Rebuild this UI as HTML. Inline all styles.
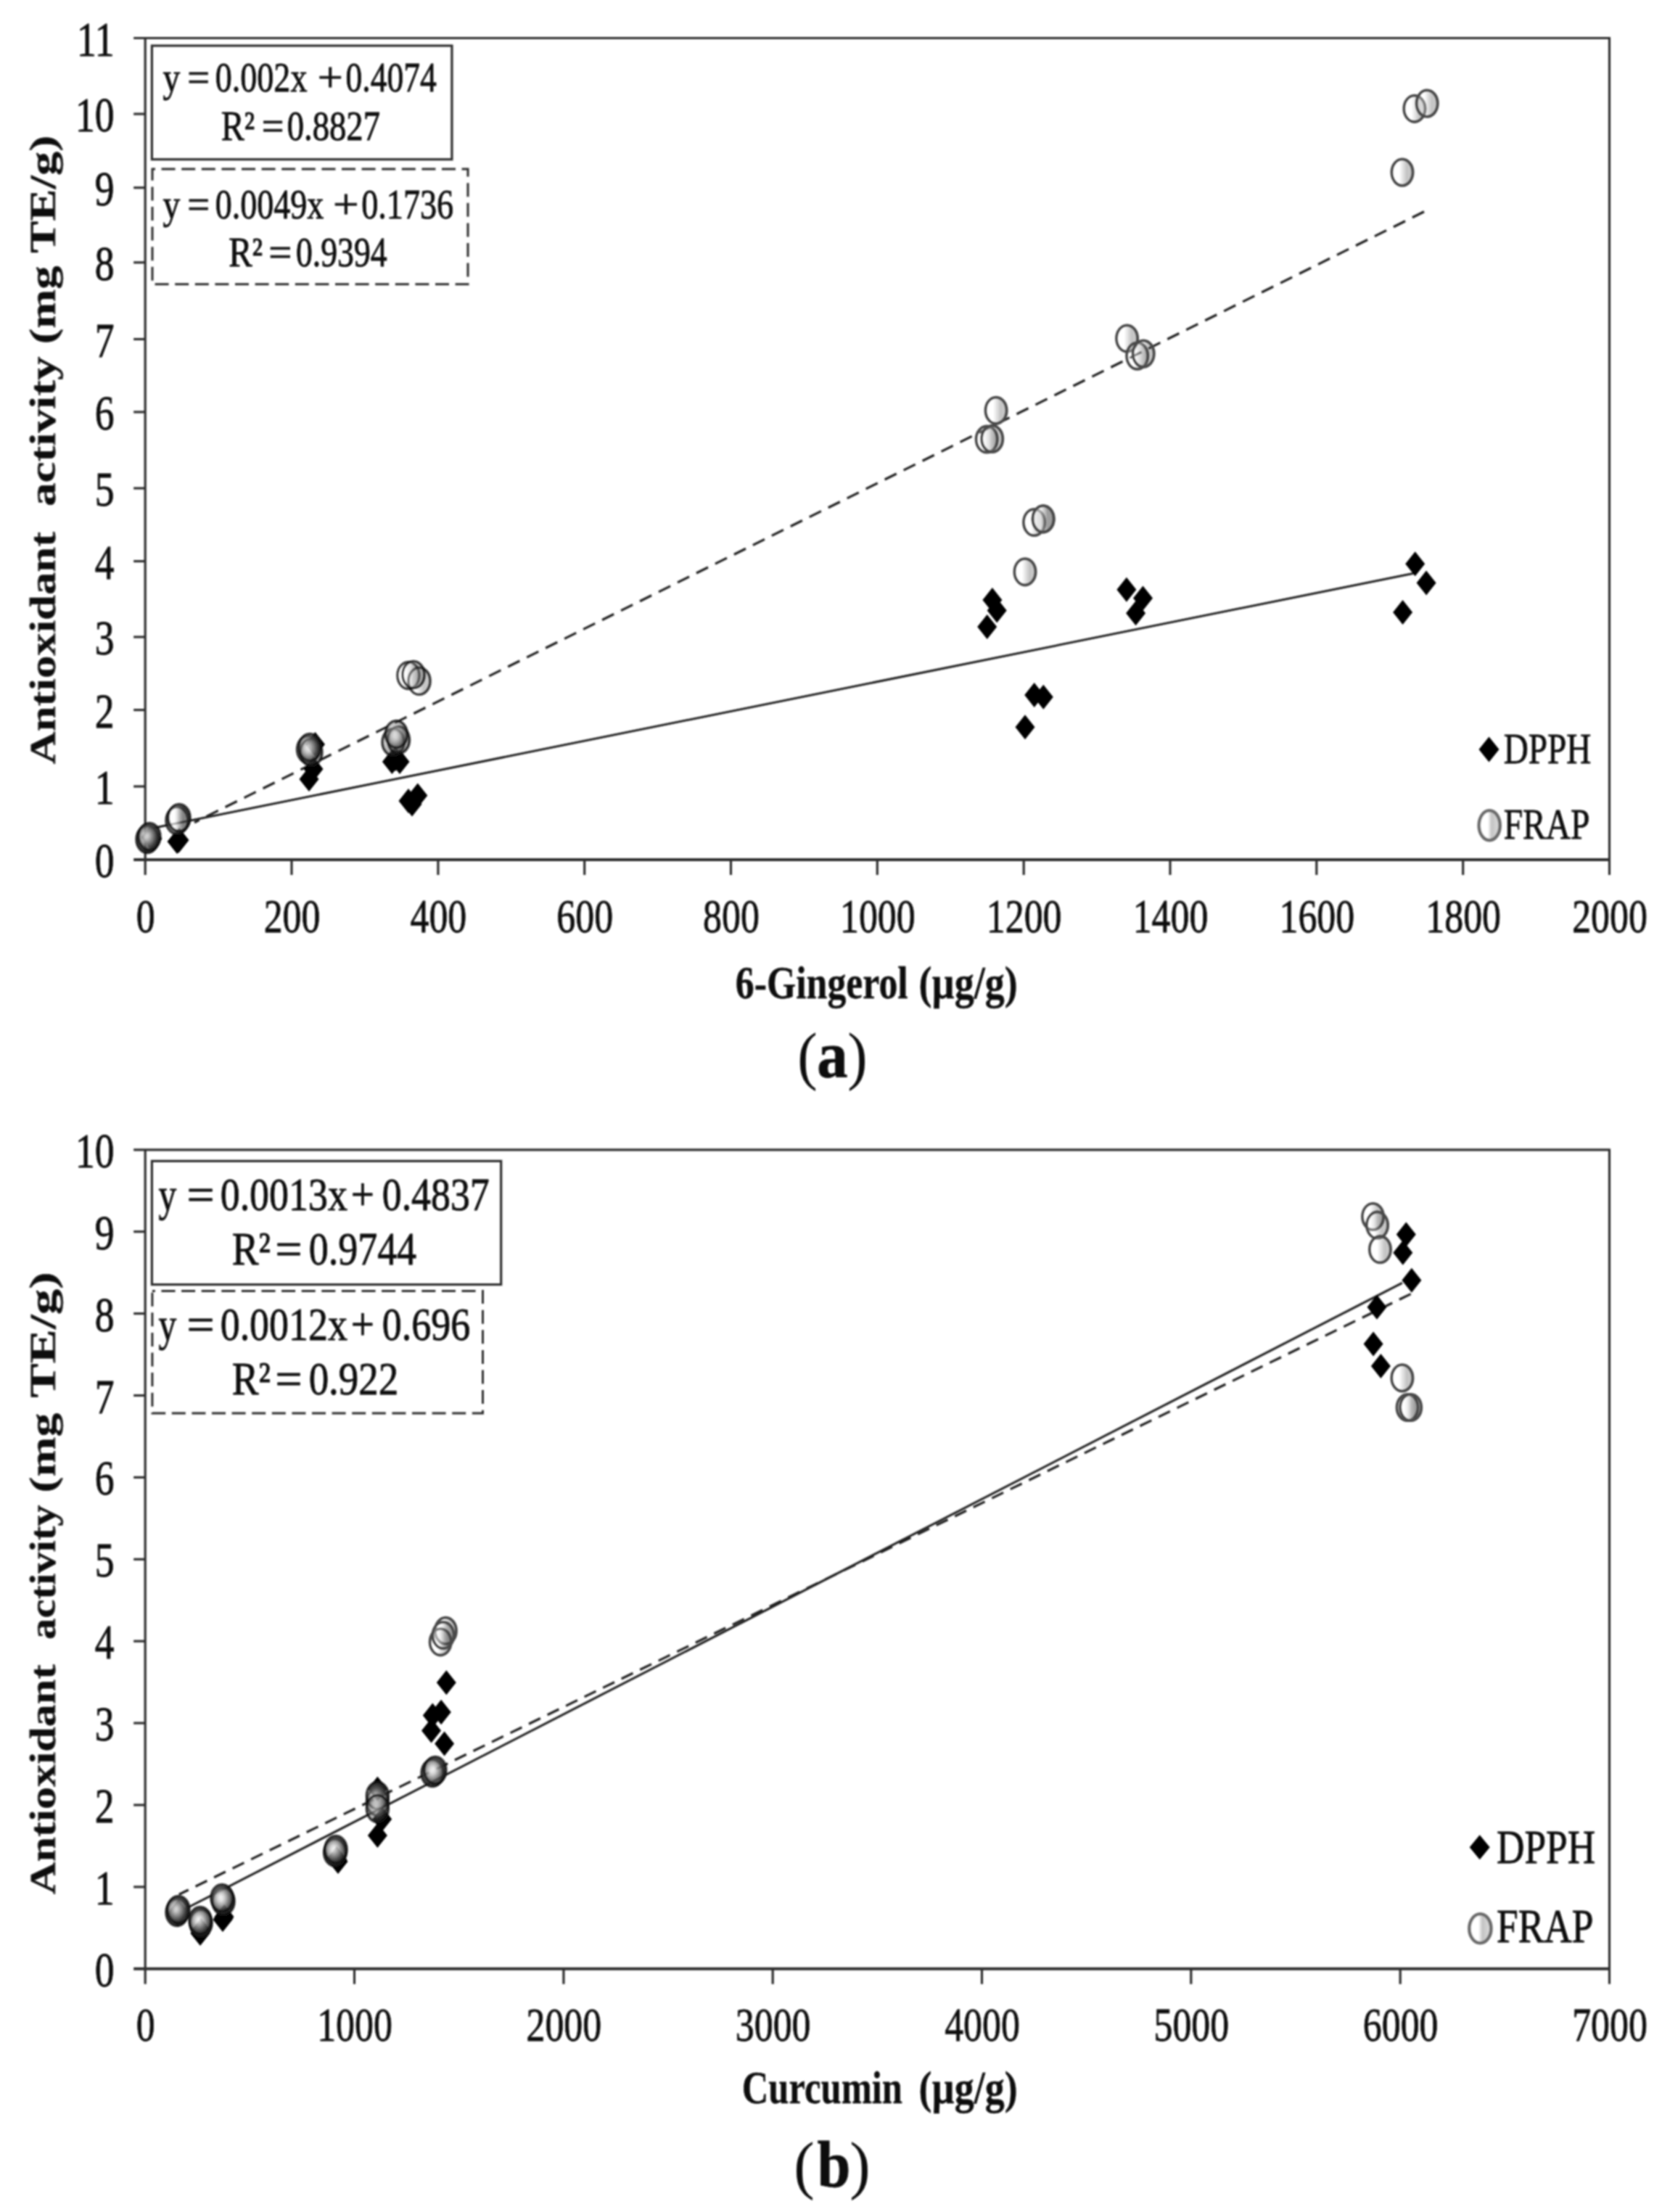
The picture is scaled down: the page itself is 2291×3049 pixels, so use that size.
<!DOCTYPE html>
<html><head><meta charset="utf-8"><title>Antioxidant activity correlation</title>
<style>
html,body{margin:0;padding:0;background:#fff}
svg{display:block}
text{font-family:"Liberation Serif",serif;fill:#0a0a0a;stroke:#0a0a0a;stroke-width:0.8px}
text[font-weight="bold"]{stroke-width:0.3px}
</style></head><body>
<svg width="2291" height="3049" viewBox="0 0 2291 3049">
<defs>
<linearGradient id="sp" x1="0" y1="0" x2="1" y2="0">
<stop offset="0" stop-color="#fff" stop-opacity="0.3"/>
<stop offset="0.36" stop-color="#fff" stop-opacity="0.3"/>
<stop offset="0.7" stop-color="#3c3c3c" stop-opacity="0.3"/>
<stop offset="1" stop-color="#555" stop-opacity="0.32"/>
</linearGradient>
<linearGradient id="lg" x1="0" y1="0" x2="1" y2="0">
<stop offset="0" stop-color="#fff"/>
<stop offset="0.42" stop-color="#fff"/>
<stop offset="0.6" stop-color="#c4c4c4"/>
<stop offset="1" stop-color="#dedede"/>
</linearGradient>
<radialGradient id="spd" cx="0.42" cy="0.45" r="0.62">
<stop offset="0" stop-color="#fff" stop-opacity="0.55"/>
<stop offset="0.25" stop-color="#d0d0d0" stop-opacity="0.45"/>
<stop offset="0.7" stop-color="#484848" stop-opacity="0.48"/>
<stop offset="1" stop-color="#111" stop-opacity="0.5"/>
</radialGradient>
<filter id="soft" x="0" y="0" width="2291" height="3049" filterUnits="userSpaceOnUse"><feGaussianBlur stdDeviation="0.9"/></filter>
</defs>
<rect width="2291" height="3049" fill="#fff"/>
<g filter="url(#soft)">
<line x1="184.2" y1="52.5" x2="2220.0" y2="52.5" stroke="#2e2e2e" stroke-width="3.2"/>
<line x1="2218.5" y1="52.5" x2="2218.5" y2="1206.0" stroke="#2e2e2e" stroke-width="3.2"/>
<line x1="200.2" y1="52.5" x2="200.2" y2="1206.0" stroke="#2e2e2e" stroke-width="3.2"/>
<line x1="184.2" y1="1185.0" x2="2220.0" y2="1185.0" stroke="#2e2e2e" stroke-width="4"/>
<text transform="translate(157.50,1209.00) scale(0.8000,1)" font-size="67" text-anchor="end">0</text>
<line x1="184.2" y1="1084.0" x2="200.2" y2="1084.0" stroke="#2e2e2e" stroke-width="3.2"/>
<text transform="translate(157.50,1108.00) scale(0.8000,1)" font-size="67" text-anchor="end">1</text>
<line x1="184.2" y1="978.6" x2="200.2" y2="978.6" stroke="#2e2e2e" stroke-width="3.2"/>
<text transform="translate(157.50,1002.60) scale(0.8000,1)" font-size="67" text-anchor="end">2</text>
<line x1="184.2" y1="878.0" x2="200.2" y2="878.0" stroke="#2e2e2e" stroke-width="3.2"/>
<text transform="translate(157.50,902.00) scale(0.8000,1)" font-size="67" text-anchor="end">3</text>
<line x1="184.2" y1="773.6" x2="200.2" y2="773.6" stroke="#2e2e2e" stroke-width="3.2"/>
<text transform="translate(157.50,797.60) scale(0.8000,1)" font-size="67" text-anchor="end">4</text>
<line x1="184.2" y1="673.0" x2="200.2" y2="673.0" stroke="#2e2e2e" stroke-width="3.2"/>
<text transform="translate(157.50,697.00) scale(0.8000,1)" font-size="67" text-anchor="end">5</text>
<line x1="184.2" y1="567.9" x2="200.2" y2="567.9" stroke="#2e2e2e" stroke-width="3.2"/>
<text transform="translate(157.50,591.90) scale(0.8000,1)" font-size="67" text-anchor="end">6</text>
<line x1="184.2" y1="467.5" x2="200.2" y2="467.5" stroke="#2e2e2e" stroke-width="3.2"/>
<text transform="translate(157.50,491.50) scale(0.8000,1)" font-size="67" text-anchor="end">7</text>
<line x1="184.2" y1="361.8" x2="200.2" y2="361.8" stroke="#2e2e2e" stroke-width="3.2"/>
<text transform="translate(157.50,385.80) scale(0.8000,1)" font-size="67" text-anchor="end">8</text>
<line x1="184.2" y1="258.7" x2="200.2" y2="258.7" stroke="#2e2e2e" stroke-width="3.2"/>
<text transform="translate(157.50,282.70) scale(0.8000,1)" font-size="67" text-anchor="end">9</text>
<line x1="184.2" y1="157.1" x2="200.2" y2="157.1" stroke="#2e2e2e" stroke-width="3.2"/>
<text transform="translate(157.50,181.10) scale(0.8000,1)" font-size="67" text-anchor="end">10</text>
<text transform="translate(157.50,76.50) scale(0.8000,1)" font-size="67" text-anchor="end">11</text>
<text transform="translate(200.70,1284.50) scale(0.7800,1)" font-size="66.5" text-anchor="middle">0</text>
<line x1="402.0" y1="1185.0" x2="402.0" y2="1206.0" stroke="#2e2e2e" stroke-width="3.2"/>
<text transform="translate(402.53,1284.50) scale(0.7800,1)" font-size="66.5" text-anchor="middle">200</text>
<line x1="603.9" y1="1185.0" x2="603.9" y2="1206.0" stroke="#2e2e2e" stroke-width="3.2"/>
<text transform="translate(604.36,1284.50) scale(0.7800,1)" font-size="66.5" text-anchor="middle">400</text>
<line x1="805.7" y1="1185.0" x2="805.7" y2="1206.0" stroke="#2e2e2e" stroke-width="3.2"/>
<text transform="translate(806.19,1284.50) scale(0.7800,1)" font-size="66.5" text-anchor="middle">600</text>
<line x1="1007.5" y1="1185.0" x2="1007.5" y2="1206.0" stroke="#2e2e2e" stroke-width="3.2"/>
<text transform="translate(1008.02,1284.50) scale(0.7800,1)" font-size="66.5" text-anchor="middle">800</text>
<line x1="1209.3" y1="1185.0" x2="1209.3" y2="1206.0" stroke="#2e2e2e" stroke-width="3.2"/>
<text transform="translate(1209.85,1284.50) scale(0.7800,1)" font-size="66.5" text-anchor="middle">1000</text>
<line x1="1411.2" y1="1185.0" x2="1411.2" y2="1206.0" stroke="#2e2e2e" stroke-width="3.2"/>
<text transform="translate(1411.68,1284.50) scale(0.7800,1)" font-size="66.5" text-anchor="middle">1200</text>
<line x1="1613.0" y1="1185.0" x2="1613.0" y2="1206.0" stroke="#2e2e2e" stroke-width="3.2"/>
<text transform="translate(1613.51,1284.50) scale(0.7800,1)" font-size="66.5" text-anchor="middle">1400</text>
<line x1="1814.8" y1="1185.0" x2="1814.8" y2="1206.0" stroke="#2e2e2e" stroke-width="3.2"/>
<text transform="translate(1815.34,1284.50) scale(0.7800,1)" font-size="66.5" text-anchor="middle">1600</text>
<line x1="2016.7" y1="1185.0" x2="2016.7" y2="1206.0" stroke="#2e2e2e" stroke-width="3.2"/>
<text transform="translate(2017.17,1284.50) scale(0.7800,1)" font-size="66.5" text-anchor="middle">1800</text>
<text transform="translate(2219.00,1284.50) scale(0.7800,1)" font-size="66.5" text-anchor="middle">2000</text>
<line x1="203.0" y1="1143.0" x2="1950.0" y2="790.0" stroke="#222" stroke-width="3"/>
<line x1="1963.0" y1="291.8" x2="268.0" y2="1133.7" stroke="#222" stroke-width="3.2" stroke-dasharray="18 11"/>
<rect x="209.4" y="63.0" width="413.5" height="156.7" fill="none" stroke="#2e2e2e" stroke-width="3.2"/>
<rect x="210.0" y="233.0" width="435.0" height="158.8" fill="none" stroke="#2e2e2e" stroke-width="3" stroke-dasharray="19 8.6" stroke-dashoffset="15"/>
<text y="126.40" font-size="57"><tspan x="224.41" textLength="23.71" lengthAdjust="spacingAndGlyphs">y</tspan> <tspan x="258.27" textLength="30.81" lengthAdjust="spacingAndGlyphs">=</tspan> <tspan x="296.67" textLength="126.81" lengthAdjust="spacingAndGlyphs">0.002x</tspan> <tspan x="437.79" textLength="35.05" lengthAdjust="spacingAndGlyphs">+</tspan> <tspan x="476.49" textLength="125.19" lengthAdjust="spacingAndGlyphs">0.4074</tspan></text>
<text y="192.50" font-size="57"><tspan x="304.78" textLength="46.47" lengthAdjust="spacingAndGlyphs">R²</tspan> <tspan x="360.68" textLength="30.68" lengthAdjust="spacingAndGlyphs">=</tspan> <tspan x="395.75" textLength="128.23" lengthAdjust="spacingAndGlyphs">0.8827</tspan></text>
<text y="300.80" font-size="57"><tspan x="224.41" textLength="23.71" lengthAdjust="spacingAndGlyphs">y</tspan> <tspan x="258.27" textLength="30.81" lengthAdjust="spacingAndGlyphs">=</tspan> <tspan x="296.67" textLength="149.60" lengthAdjust="spacingAndGlyphs">0.0049x</tspan> <tspan x="458.94" textLength="35.66" lengthAdjust="spacingAndGlyphs">+</tspan> <tspan x="498.17" textLength="127.02" lengthAdjust="spacingAndGlyphs">0.1736</tspan></text>
<text y="367.00" font-size="57"><tspan x="315.17" textLength="46.89" lengthAdjust="spacingAndGlyphs">R²</tspan> <tspan x="370.15" textLength="32.14" lengthAdjust="spacingAndGlyphs">=</tspan> <tspan x="407.88" textLength="125.80" lengthAdjust="spacingAndGlyphs">0.9394</tspan></text>
<text transform="translate(75.80,0) rotate(-90)" font-size="51" font-weight="bold"><tspan x="-1053.63" textLength="320.77" lengthAdjust="spacingAndGlyphs">Antioxidant</tspan> <tspan x="-698.12" textLength="206.81" lengthAdjust="spacingAndGlyphs">activity</tspan> <tspan x="-474.36" textLength="108.07" lengthAdjust="spacingAndGlyphs">(mg</tspan> <tspan x="-349.00" textLength="162.31" lengthAdjust="spacingAndGlyphs">TE/g)</tspan></text>
<text y="1376.30" font-size="63" font-weight="bold"><tspan x="1013.79" textLength="237.91" lengthAdjust="spacingAndGlyphs">6-Gingerol</tspan> <tspan x="1266.60" textLength="136.09" lengthAdjust="spacingAndGlyphs">(µg/g)</tspan></text>
<text y="1484.60" font-size="88"><tspan x="1099.30" textLength="27.42" lengthAdjust="spacingAndGlyphs" stroke-width="0">(</tspan><tspan x="1126.26" textLength="42.21" lengthAdjust="spacingAndGlyphs" font-weight="bold" font-size="92">a</tspan><tspan x="1168.32" textLength="27.42" lengthAdjust="spacingAndGlyphs" stroke-width="0">)</tspan></text>
<path d="M245.8 1142.0L259.3 1159.0L245.8 1176.0L232.3 1159.0Z" fill="#000"/>
<path d="M244.0 1143.0L257.5 1160.0L244.0 1177.0L230.5 1160.0Z" fill="#000"/>
<path d="M247.0 1141.0L260.5 1158.0L247.0 1175.0L233.5 1158.0Z" fill="#000"/>
<path d="M209.0 1138.0L222.5 1155.0L209.0 1172.0L195.5 1155.0Z" fill="#000"/>
<path d="M210.0 1139.0L223.5 1156.0L210.0 1173.0L196.5 1156.0Z" fill="#000"/>
<path d="M208.0 1137.0L221.5 1154.0L208.0 1171.0L194.5 1154.0Z" fill="#000"/>
<path d="M434.5 1009.0L448.0 1026.0L434.5 1043.0L421.0 1026.0Z" fill="#000"/>
<path d="M426.0 1057.0L439.5 1074.0L426.0 1091.0L412.5 1074.0Z" fill="#000"/>
<path d="M432.0 1043.0L445.5 1060.0L432.0 1077.0L418.5 1060.0Z" fill="#000"/>
<path d="M540.4 1033.0L553.9 1050.0L540.4 1067.0L526.9 1050.0Z" fill="#000"/>
<path d="M551.0 1033.0L564.5 1050.0L551.0 1067.0L537.5 1050.0Z" fill="#000"/>
<path d="M545.0 1029.0L558.5 1046.0L545.0 1063.0L531.5 1046.0Z" fill="#000"/>
<path d="M563.0 1087.0L576.5 1104.0L563.0 1121.0L549.5 1104.0Z" fill="#000"/>
<path d="M575.8 1079.6L589.3 1096.6L575.8 1113.6L562.3 1096.6Z" fill="#000"/>
<path d="M568.0 1091.6L581.5 1108.6L568.0 1125.6L554.5 1108.6Z" fill="#000"/>
<path d="M1367.9 810.1L1381.4 827.1L1367.9 844.1L1354.4 827.1Z" fill="#000"/>
<path d="M1374.2 824.6L1387.7 841.6L1374.2 858.6L1360.7 841.6Z" fill="#000"/>
<path d="M1360.7 847.1L1374.2 864.1L1360.7 881.1L1347.2 864.1Z" fill="#000"/>
<path d="M1552.9 795.7L1566.4 812.7L1552.9 829.7L1539.4 812.7Z" fill="#000"/>
<path d="M1575.5 807.4L1589.0 824.4L1575.5 841.4L1562.0 824.4Z" fill="#000"/>
<path d="M1565.6 828.2L1579.1 845.2L1565.6 862.2L1552.1 845.2Z" fill="#000"/>
<path d="M1425.7 941.0L1439.2 958.0L1425.7 975.0L1412.2 958.0Z" fill="#000"/>
<path d="M1438.3 943.7L1451.8 960.7L1438.3 977.7L1424.8 960.7Z" fill="#000"/>
<path d="M1413.0 985.2L1426.5 1002.2L1413.0 1019.2L1399.5 1002.2Z" fill="#000"/>
<path d="M1950.7 760.3L1964.2 777.3L1950.7 794.3L1937.2 777.3Z" fill="#000"/>
<path d="M1966.1 786.4L1979.6 803.4L1966.1 820.4L1952.6 803.4Z" fill="#000"/>
<path d="M1933.6 827.0L1947.1 844.0L1933.6 861.0L1920.1 844.0Z" fill="#000"/>
<ellipse cx="204.3" cy="1155.2" rx="15" ry="18.5" fill="url(#spd)" stroke="#111" stroke-opacity="0.8" stroke-width="3.5"/>
<ellipse cx="203.0" cy="1157.0" rx="15" ry="18.5" fill="url(#spd)" stroke="#111" stroke-opacity="0.8" stroke-width="3.5"/>
<ellipse cx="206.0" cy="1153.0" rx="15" ry="18.5" fill="url(#spd)" stroke="#111" stroke-opacity="0.8" stroke-width="3.5"/>
<ellipse cx="245.8" cy="1129.0" rx="15" ry="18.5" fill="url(#sp)" stroke="#111" stroke-opacity="0.8" stroke-width="3.6"/>
<ellipse cx="244.0" cy="1131.0" rx="15" ry="18.5" fill="url(#sp)" stroke="#111" stroke-opacity="0.8" stroke-width="3.6"/>
<ellipse cx="247.0" cy="1127.0" rx="15" ry="18.5" fill="url(#sp)" stroke="#111" stroke-opacity="0.8" stroke-width="3.6"/>
<ellipse cx="424.5" cy="1033.0" rx="15" ry="18.5" fill="url(#spd)" stroke="#111" stroke-opacity="0.8" stroke-width="3.5"/>
<ellipse cx="429.0" cy="1037.0" rx="15" ry="18.5" fill="url(#spd)" stroke="#111" stroke-opacity="0.8" stroke-width="3.5"/>
<ellipse cx="427.0" cy="1030.0" rx="15" ry="18.5" fill="url(#spd)" stroke="#111" stroke-opacity="0.8" stroke-width="3.5"/>
<ellipse cx="542.0" cy="1023.0" rx="15" ry="18.5" fill="url(#spd)" stroke="#111" stroke-opacity="0.8" stroke-width="3.5"/>
<ellipse cx="549.5" cy="1020.0" rx="15" ry="18.5" fill="url(#spd)" stroke="#111" stroke-opacity="0.8" stroke-width="3.5"/>
<ellipse cx="546.4" cy="1012.0" rx="15" ry="18.5" fill="url(#spd)" stroke="#111" stroke-opacity="0.8" stroke-width="3.5"/>
<ellipse cx="563.0" cy="931.0" rx="15" ry="18.5" fill="url(#sp)" stroke="#111" stroke-opacity="0.8" stroke-width="3.6"/>
<ellipse cx="578.0" cy="938.7" rx="15" ry="18.5" fill="url(#sp)" stroke="#111" stroke-opacity="0.8" stroke-width="3.6"/>
<ellipse cx="570.0" cy="930.0" rx="15" ry="18.5" fill="url(#sp)" stroke="#111" stroke-opacity="0.8" stroke-width="3.6"/>
<ellipse cx="1373.1" cy="565.8" rx="14.6" ry="18.2" fill="url(#sp)" stroke="#484848" stroke-opacity="1" stroke-width="3.8"/>
<ellipse cx="1360.2" cy="605.5" rx="14.6" ry="18.2" fill="url(#sp)" stroke="#484848" stroke-opacity="1" stroke-width="3.8"/>
<ellipse cx="1367.7" cy="604.9" rx="14.6" ry="18.2" fill="url(#sp)" stroke="#484848" stroke-opacity="1" stroke-width="3.8"/>
<ellipse cx="1553.6" cy="466.5" rx="14.6" ry="18.2" fill="url(#sp)" stroke="#484848" stroke-opacity="1" stroke-width="3.8"/>
<ellipse cx="1567.7" cy="490.6" rx="14.6" ry="18.2" fill="url(#sp)" stroke="#484848" stroke-opacity="1" stroke-width="3.8"/>
<ellipse cx="1576.2" cy="487.6" rx="14.6" ry="18.2" fill="url(#sp)" stroke="#484848" stroke-opacity="1" stroke-width="3.8"/>
<ellipse cx="1425.6" cy="720.0" rx="14.6" ry="18.2" fill="url(#sp)" stroke="#484848" stroke-opacity="1" stroke-width="3.8"/>
<ellipse cx="1438.1" cy="715.3" rx="14.6" ry="18.2" fill="url(#sp)" stroke="#484848" stroke-opacity="1" stroke-width="3.8"/>
<ellipse cx="1438.1" cy="715.3" rx="14.6" ry="18.2" fill="url(#sp)" stroke="#484848" stroke-opacity="1" stroke-width="3.8"/>
<ellipse cx="1413.0" cy="788.3" rx="14.6" ry="18.2" fill="url(#sp)" stroke="#484848" stroke-opacity="1" stroke-width="3.8"/>
<ellipse cx="1949.9" cy="149.8" rx="14.6" ry="18.2" fill="url(#sp)" stroke="#484848" stroke-opacity="1" stroke-width="3.8"/>
<ellipse cx="1967.2" cy="142.6" rx="14.6" ry="18.2" fill="url(#sp)" stroke="#484848" stroke-opacity="1" stroke-width="3.8"/>
<ellipse cx="1933.0" cy="237.6" rx="14.6" ry="18.2" fill="url(#sp)" stroke="#484848" stroke-opacity="1" stroke-width="3.8"/>
<path d="M2052.5 1015.5L2066.5 1033.0L2052.5 1050.5L2038.5 1033.0Z" fill="#000"/>
<text transform="translate(2072.70,1051.60) scale(0.7867,1)" font-size="60">DPPH</text>
<ellipse cx="2053.2" cy="1137.7" rx="14.5" ry="20.5" fill="url(#lg)" stroke="#6c6c6c" stroke-opacity="1" stroke-width="4.6"/>
<text transform="translate(2072.69,1155.80) scale(0.7912,1)" font-size="60">FRAP</text>
<line x1="184.2" y1="1584.8" x2="2220.0" y2="1584.8" stroke="#2e2e2e" stroke-width="3.2"/>
<line x1="2218.5" y1="1584.8" x2="2218.5" y2="2734.8" stroke="#2e2e2e" stroke-width="3.2"/>
<line x1="200.2" y1="1584.8" x2="200.2" y2="2734.8" stroke="#2e2e2e" stroke-width="3.2"/>
<line x1="184.2" y1="2713.8" x2="2220.0" y2="2713.8" stroke="#2e2e2e" stroke-width="4"/>
<text transform="translate(157.50,2737.80) scale(0.8000,1)" font-size="67" text-anchor="end">0</text>
<line x1="184.2" y1="2600.9" x2="200.2" y2="2600.9" stroke="#2e2e2e" stroke-width="3.2"/>
<text transform="translate(157.50,2624.90) scale(0.8000,1)" font-size="67" text-anchor="end">1</text>
<line x1="184.2" y1="2488.0" x2="200.2" y2="2488.0" stroke="#2e2e2e" stroke-width="3.2"/>
<text transform="translate(157.50,2512.00) scale(0.8000,1)" font-size="67" text-anchor="end">2</text>
<line x1="184.2" y1="2375.1" x2="200.2" y2="2375.1" stroke="#2e2e2e" stroke-width="3.2"/>
<text transform="translate(157.50,2399.10) scale(0.8000,1)" font-size="67" text-anchor="end">3</text>
<line x1="184.2" y1="2262.2" x2="200.2" y2="2262.2" stroke="#2e2e2e" stroke-width="3.2"/>
<text transform="translate(157.50,2286.20) scale(0.8000,1)" font-size="67" text-anchor="end">4</text>
<line x1="184.2" y1="2149.3" x2="200.2" y2="2149.3" stroke="#2e2e2e" stroke-width="3.2"/>
<text transform="translate(157.50,2173.30) scale(0.8000,1)" font-size="67" text-anchor="end">5</text>
<line x1="184.2" y1="2036.4" x2="200.2" y2="2036.4" stroke="#2e2e2e" stroke-width="3.2"/>
<text transform="translate(157.50,2060.40) scale(0.8000,1)" font-size="67" text-anchor="end">6</text>
<line x1="184.2" y1="1923.5" x2="200.2" y2="1923.5" stroke="#2e2e2e" stroke-width="3.2"/>
<text transform="translate(157.50,1947.50) scale(0.8000,1)" font-size="67" text-anchor="end">7</text>
<line x1="184.2" y1="1810.6" x2="200.2" y2="1810.6" stroke="#2e2e2e" stroke-width="3.2"/>
<text transform="translate(157.50,1834.60) scale(0.8000,1)" font-size="67" text-anchor="end">8</text>
<line x1="184.2" y1="1697.7" x2="200.2" y2="1697.7" stroke="#2e2e2e" stroke-width="3.2"/>
<text transform="translate(157.50,1721.70) scale(0.8000,1)" font-size="67" text-anchor="end">9</text>
<text transform="translate(157.50,1608.80) scale(0.8000,1)" font-size="67" text-anchor="end">10</text>
<text transform="translate(200.70,2813.30) scale(0.7800,1)" font-size="66.5" text-anchor="middle">0</text>
<line x1="488.5" y1="2713.8" x2="488.5" y2="2734.8" stroke="#2e2e2e" stroke-width="3.2"/>
<text transform="translate(489.03,2813.30) scale(0.7800,1)" font-size="66.5" text-anchor="middle">1000</text>
<line x1="776.9" y1="2713.8" x2="776.9" y2="2734.8" stroke="#2e2e2e" stroke-width="3.2"/>
<text transform="translate(777.36,2813.30) scale(0.7800,1)" font-size="66.5" text-anchor="middle">2000</text>
<line x1="1065.2" y1="2713.8" x2="1065.2" y2="2734.8" stroke="#2e2e2e" stroke-width="3.2"/>
<text transform="translate(1065.69,2813.30) scale(0.7800,1)" font-size="66.5" text-anchor="middle">3000</text>
<line x1="1353.5" y1="2713.8" x2="1353.5" y2="2734.8" stroke="#2e2e2e" stroke-width="3.2"/>
<text transform="translate(1354.01,2813.30) scale(0.7800,1)" font-size="66.5" text-anchor="middle">4000</text>
<line x1="1641.8" y1="2713.8" x2="1641.8" y2="2734.8" stroke="#2e2e2e" stroke-width="3.2"/>
<text transform="translate(1642.34,2813.30) scale(0.7800,1)" font-size="66.5" text-anchor="middle">5000</text>
<line x1="1930.2" y1="2713.8" x2="1930.2" y2="2734.8" stroke="#2e2e2e" stroke-width="3.2"/>
<text transform="translate(1930.67,2813.30) scale(0.7800,1)" font-size="66.5" text-anchor="middle">6000</text>
<text transform="translate(2219.00,2813.30) scale(0.7800,1)" font-size="66.5" text-anchor="middle">7000</text>
<line x1="245.0" y1="2636.5" x2="1932.9" y2="1768.3" stroke="#222" stroke-width="3"/>
<line x1="1944.7" y1="1783.6" x2="246.8" y2="2611.3" stroke="#222" stroke-width="3.2" stroke-dasharray="17.6 10.8"/>
<rect x="209.4" y="1600.4" width="481.3" height="170.2" fill="none" stroke="#2e2e2e" stroke-width="3.2"/>
<rect x="209.9" y="1779.5" width="455.6" height="168.5" fill="none" stroke="#2e2e2e" stroke-width="3" stroke-dasharray="19 8.6" stroke-dashoffset="15"/>
<text y="1668.30" font-size="64"><tspan x="218.38" textLength="24.74" lengthAdjust="spacingAndGlyphs">y</tspan> <tspan x="257.62" textLength="38.08" lengthAdjust="spacingAndGlyphs">=</tspan> <tspan x="303.68" textLength="175.20" lengthAdjust="spacingAndGlyphs">0.0013x</tspan> <tspan x="483.75" textLength="32.14" lengthAdjust="spacingAndGlyphs">+</tspan> <tspan x="526.78" textLength="147.90" lengthAdjust="spacingAndGlyphs">0.4837</tspan></text>
<text y="1743.40" font-size="64"><tspan x="319.79" textLength="53.21" lengthAdjust="spacingAndGlyphs">R²</tspan> <tspan x="379.42" textLength="36.99" lengthAdjust="spacingAndGlyphs">=</tspan> <tspan x="425.68" textLength="148.43" lengthAdjust="spacingAndGlyphs">0.9744</tspan></text>
<text y="1846.90" font-size="64"><tspan x="218.38" textLength="24.74" lengthAdjust="spacingAndGlyphs">y</tspan> <tspan x="257.62" textLength="38.08" lengthAdjust="spacingAndGlyphs">=</tspan> <tspan x="303.68" textLength="175.20" lengthAdjust="spacingAndGlyphs">0.0012x</tspan> <tspan x="483.75" textLength="32.14" lengthAdjust="spacingAndGlyphs">+</tspan> <tspan x="526.77" textLength="121.55" lengthAdjust="spacingAndGlyphs">0.696</tspan></text>
<text y="1922.20" font-size="64"><tspan x="319.79" textLength="53.21" lengthAdjust="spacingAndGlyphs">R²</tspan> <tspan x="379.42" textLength="36.99" lengthAdjust="spacingAndGlyphs">=</tspan> <tspan x="425.64" textLength="123.68" lengthAdjust="spacingAndGlyphs">0.922</tspan></text>
<text transform="translate(75.80,0) rotate(-90)" font-size="51" font-weight="bold"><tspan x="-2611.32" textLength="317.27" lengthAdjust="spacingAndGlyphs">Antioxidant</tspan> <tspan x="-2259.90" textLength="185.52" lengthAdjust="spacingAndGlyphs">activity</tspan> <tspan x="-2057.40" textLength="109.73" lengthAdjust="spacingAndGlyphs">(mg</tspan> <tspan x="-1926.87" textLength="173.67" lengthAdjust="spacingAndGlyphs">TE/g)</tspan></text>
<text y="2899.30" font-size="64" font-weight="bold"><tspan x="1022.80" textLength="221.19" lengthAdjust="spacingAndGlyphs">Curcumin</tspan> <tspan x="1266.60" textLength="136.09" lengthAdjust="spacingAndGlyphs">(µg/g)</tspan></text>
<text y="3014.20" font-size="88"><tspan x="1094.37" textLength="28.45" lengthAdjust="spacingAndGlyphs" stroke-width="0">(</tspan><tspan x="1126.47" textLength="45.93" lengthAdjust="spacingAndGlyphs" font-weight="bold" font-size="92">b</tspan><tspan x="1171.22" textLength="28.45" lengthAdjust="spacingAndGlyphs" stroke-width="0">)</tspan></text>
<path d="M245.0 2620.0L258.5 2637.0L245.0 2654.0L231.5 2637.0Z" fill="#000"/>
<path d="M245.0 2622.0L258.5 2639.0L245.0 2656.0L231.5 2639.0Z" fill="#000"/>
<path d="M246.0 2618.0L259.5 2635.0L246.0 2652.0L232.5 2635.0Z" fill="#000"/>
<path d="M276.6 2646.0L290.1 2663.0L276.6 2680.0L263.1 2663.0Z" fill="#000"/>
<path d="M277.0 2644.0L290.5 2661.0L277.0 2678.0L263.5 2661.0Z" fill="#000"/>
<path d="M276.0 2648.0L289.5 2665.0L276.0 2682.0L262.5 2665.0Z" fill="#000"/>
<path d="M308.2 2627.0L321.7 2644.0L308.2 2661.0L294.7 2644.0Z" fill="#000"/>
<path d="M309.0 2625.0L322.5 2642.0L309.0 2659.0L295.5 2642.0Z" fill="#000"/>
<path d="M307.0 2629.0L320.5 2646.0L307.0 2663.0L293.5 2646.0Z" fill="#000"/>
<path d="M465.2 2547.0L478.7 2564.0L465.2 2581.0L451.7 2564.0Z" fill="#000"/>
<path d="M464.0 2545.0L477.5 2562.0L464.0 2579.0L450.5 2562.0Z" fill="#000"/>
<path d="M466.0 2549.0L479.5 2566.0L466.0 2583.0L452.5 2566.0Z" fill="#000"/>
<path d="M520.4 2448.8L533.9 2465.8L520.4 2482.8L506.9 2465.8Z" fill="#000"/>
<path d="M520.4 2513.0L533.9 2530.0L520.4 2547.0L506.9 2530.0Z" fill="#000"/>
<path d="M526.7 2490.4L540.2 2507.4L526.7 2524.4L513.2 2507.4Z" fill="#000"/>
<path d="M615.3 2302.3L628.8 2319.3L615.3 2336.3L601.8 2319.3Z" fill="#000"/>
<path d="M608.1 2343.0L621.6 2360.0L608.1 2377.0L594.6 2360.0Z" fill="#000"/>
<path d="M596.3 2347.6L609.8 2364.6L596.3 2381.6L582.8 2364.6Z" fill="#000"/>
<path d="M594.5 2368.4L608.0 2385.4L594.5 2402.4L581.0 2385.4Z" fill="#000"/>
<path d="M612.6 2386.4L626.1 2403.4L612.6 2420.4L599.1 2403.4Z" fill="#000"/>
<path d="M608.1 2343.0L621.6 2360.0L608.1 2377.0L594.6 2360.0Z" fill="#000"/>
<path d="M1938.3 1684.4L1951.8 1701.4L1938.3 1718.4L1924.8 1701.4Z" fill="#000"/>
<path d="M1933.8 1709.7L1947.3 1726.7L1933.8 1743.7L1920.3 1726.7Z" fill="#000"/>
<path d="M1945.9 1747.7L1959.4 1764.7L1945.9 1781.7L1932.4 1764.7Z" fill="#000"/>
<path d="M1898.0 1784.7L1911.5 1801.7L1898.0 1818.7L1884.5 1801.7Z" fill="#000"/>
<path d="M1893.1 1835.4L1906.6 1852.4L1893.1 1869.4L1879.6 1852.4Z" fill="#000"/>
<path d="M1903.4 1866.1L1916.9 1883.1L1903.4 1900.1L1889.9 1883.1Z" fill="#000"/>
<ellipse cx="245.0" cy="2634.0" rx="15" ry="18.5" fill="url(#spd)" stroke="#111" stroke-opacity="0.8" stroke-width="3.5"/>
<ellipse cx="244.0" cy="2636.0" rx="15" ry="18.5" fill="url(#spd)" stroke="#111" stroke-opacity="0.8" stroke-width="3.5"/>
<ellipse cx="246.0" cy="2632.0" rx="15" ry="18.5" fill="url(#spd)" stroke="#111" stroke-opacity="0.8" stroke-width="3.5"/>
<ellipse cx="276.6" cy="2649.2" rx="15" ry="18.5" fill="url(#spd)" stroke="#111" stroke-opacity="0.8" stroke-width="3.5"/>
<ellipse cx="277.0" cy="2651.0" rx="15" ry="18.5" fill="url(#spd)" stroke="#111" stroke-opacity="0.8" stroke-width="3.5"/>
<ellipse cx="276.0" cy="2647.0" rx="15" ry="18.5" fill="url(#spd)" stroke="#111" stroke-opacity="0.8" stroke-width="3.5"/>
<ellipse cx="307.3" cy="2618.6" rx="15" ry="18.5" fill="url(#spd)" stroke="#111" stroke-opacity="0.8" stroke-width="3.5"/>
<ellipse cx="308.0" cy="2621.0" rx="15" ry="18.5" fill="url(#spd)" stroke="#111" stroke-opacity="0.8" stroke-width="3.5"/>
<ellipse cx="306.0" cy="2616.0" rx="15" ry="18.5" fill="url(#spd)" stroke="#111" stroke-opacity="0.8" stroke-width="3.5"/>
<ellipse cx="462.5" cy="2551.7" rx="15" ry="18.5" fill="url(#spd)" stroke="#111" stroke-opacity="0.8" stroke-width="3.5"/>
<ellipse cx="461.6" cy="2553.6" rx="15" ry="18.5" fill="url(#spd)" stroke="#111" stroke-opacity="0.8" stroke-width="3.5"/>
<ellipse cx="463.0" cy="2549.0" rx="15" ry="18.5" fill="url(#spd)" stroke="#111" stroke-opacity="0.8" stroke-width="3.5"/>
<ellipse cx="520.4" cy="2483.9" rx="15" ry="18.5" fill="url(#spd)" stroke="#111" stroke-opacity="0.8" stroke-width="3.5"/>
<ellipse cx="520.4" cy="2474.9" rx="15" ry="18.5" fill="url(#spd)" stroke="#111" stroke-opacity="0.8" stroke-width="3.5"/>
<ellipse cx="520.4" cy="2493.0" rx="15" ry="18.5" fill="url(#spd)" stroke="#111" stroke-opacity="0.8" stroke-width="3.5"/>
<ellipse cx="598.1" cy="2442.3" rx="15" ry="18.5" fill="url(#spd)" stroke="#111" stroke-opacity="0.8" stroke-width="3.5"/>
<ellipse cx="596.0" cy="2444.0" rx="15" ry="18.5" fill="url(#spd)" stroke="#111" stroke-opacity="0.8" stroke-width="3.5"/>
<ellipse cx="600.0" cy="2440.0" rx="15" ry="18.5" fill="url(#spd)" stroke="#111" stroke-opacity="0.8" stroke-width="3.5"/>
<ellipse cx="614.4" cy="2247.9" rx="14.6" ry="18.2" fill="url(#sp)" stroke="#484848" stroke-opacity="1" stroke-width="3.8"/>
<ellipse cx="607.2" cy="2263.3" rx="14.6" ry="18.2" fill="url(#sp)" stroke="#484848" stroke-opacity="1" stroke-width="3.8"/>
<ellipse cx="611.0" cy="2254.0" rx="14.6" ry="18.2" fill="url(#sp)" stroke="#484848" stroke-opacity="1" stroke-width="3.8"/>
<ellipse cx="1892.6" cy="1677.0" rx="14.6" ry="18.2" fill="url(#sp)" stroke="#484848" stroke-opacity="1" stroke-width="3.8"/>
<ellipse cx="1898.6" cy="1688.7" rx="14.6" ry="18.2" fill="url(#sp)" stroke="#484848" stroke-opacity="1" stroke-width="3.8"/>
<ellipse cx="1902.5" cy="1722.2" rx="14.6" ry="18.2" fill="url(#sp)" stroke="#484848" stroke-opacity="1" stroke-width="3.8"/>
<ellipse cx="1932.9" cy="1899.4" rx="14.6" ry="18.2" fill="url(#sp)" stroke="#484848" stroke-opacity="1" stroke-width="3.8"/>
<ellipse cx="1940.1" cy="1940.0" rx="14.6" ry="18.2" fill="url(#sp)" stroke="#484848" stroke-opacity="1" stroke-width="3.8"/>
<ellipse cx="1944.7" cy="1940.0" rx="14.6" ry="18.2" fill="url(#sp)" stroke="#484848" stroke-opacity="1" stroke-width="3.8"/>
<path d="M2039.7 2529.3L2053.7 2546.3L2039.7 2563.3L2025.7 2546.3Z" fill="#000"/>
<text transform="translate(2063.04,2568.40) scale(0.8191,1)" font-size="65">DPPH</text>
<ellipse cx="2040.4" cy="2658.2" rx="15" ry="20" fill="url(#lg)" stroke="#6c6c6c" stroke-opacity="1" stroke-width="4.6"/>
<text transform="translate(2063.03,2677.40) scale(0.8214,1)" font-size="65">FRAP</text>
</g>
</svg>
</body></html>
